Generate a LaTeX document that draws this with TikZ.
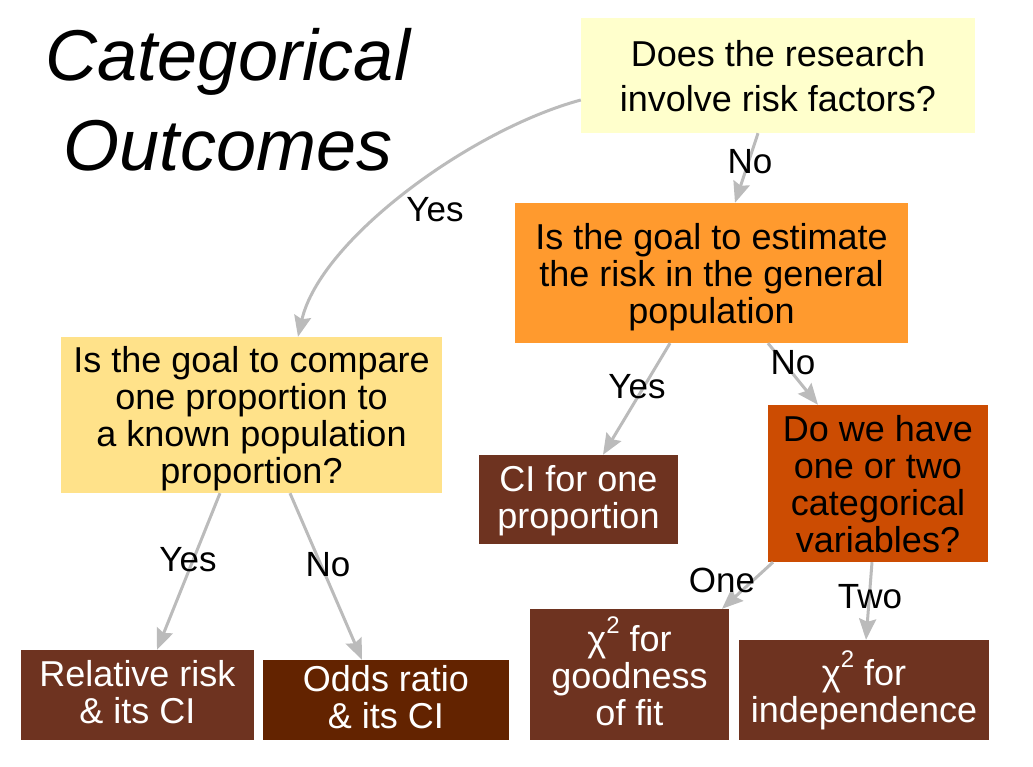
\documentclass[tikz,border=0pt]{standalone}
\usepackage{fontspec}
\setmainfont{Liberation Sans}
\usetikzlibrary{arrows.meta}
\definecolor{pale}{HTML}{FFFFCC}
\definecolor{orng}{HTML}{FF9A2E}
\definecolor{lorng}{HTML}{FFE28A}
\definecolor{dorng}{HTML}{CC4C02}
\definecolor{brwn}{HTML}{6E3320}
\definecolor{dbrwn}{HTML}{632300}
\definecolor{arr}{HTML}{BBBBBB}
\newcommand{\chisq}{χ\raisebox{0.5em}{\fontsize{24}{24}\selectfont 2}}
\tikzset{
  box/.style={rectangle, inner sep=0pt, align=center, font=\fontsize{36}{37}\selectfont, text depth=-4pt},
  darkbox/.style={box, text=white, text depth=6pt},
  lbl/.style={inner sep=0pt, font=\fontsize{35}{36}\selectfont},
  conn/.style={draw=arr, line width=3pt, -{Stealth[length=21pt,width=17pt,inset=3pt]}}
}
\begin{document}
\begin{tikzpicture}[x=1pt,y=-1pt]
\useasboundingbox (0,0) rectangle (1033,767);
\node[inner sep=0pt, align=center, font=\fontsize{72}{90}\selectfont\itshape] (title) at (228,100) {Categorical\\Outcomes};
\node[box, fill=pale, minimum width=394pt, minimum height=115pt, font=\fontsize{36}{45}\selectfont] (b1) at (778,75.5) {Does the research\\involve risk factors?};
\node[box, fill=orng, minimum width=393pt, minimum height=140pt] (b2) at (711.5,273) {Is the goal to estimate\\the risk in the general\\population};
\node[box, fill=lorng, minimum width=381pt, minimum height=156pt] (b3) at (251.5,415) {Is the goal to compare\\one proportion to\\a known population\\proportion?};
\node[darkbox, fill=brwn, minimum width=199pt, minimum height=89pt] (b4) at (578.5,499.5) {CI for one\\proportion};
\node[box, fill=dorng, minimum width=220pt, minimum height=157pt] (b5) at (878,483.5) {Do we have\\one or two\\categorical\\variables?};
\node[darkbox, fill=brwn, minimum width=233pt, minimum height=90pt] (b6) at (137.5,695) {Relative risk\\\& its CI};
\node[darkbox, fill=dbrwn, minimum width=246pt, minimum height=80pt] (b7) at (386,700) {Odds ratio\\\& its CI};
\node[darkbox, fill=brwn, minimum width=199pt, minimum height=131pt] (b8) at (629.5,674.5) {\chisq{} for\\goodness\\of fit};
\node[darkbox, fill=brwn, minimum width=250pt, minimum height=100pt] (b9) at (864,690) {\chisq{} for\\independence};

\draw[conn] ([yshift=-24.5pt]b1.west) .. controls (470,130) and (320,240) .. ([xshift=46.5pt]b3.north);
\draw[conn] ([xshift=-20pt]b1.south) -- ([xshift=23.5pt]b2.north);
\draw[conn] ([xshift=-41.5pt]b2.south) -- ([xshift=24.5pt]b4.north);
\draw[conn] ([xshift=56.5pt]b2.south) -- ([xshift=-60pt]b5.north);
\draw[conn] ([xshift=-31.5pt]b3.south) -- ([xshift=19.5pt]b6.north);
\draw[conn] ([xshift=38.5pt]b3.south) -- ([xshift=-24pt]b7.north);
\draw[conn] ([xshift=-105pt]b5.south) -- ([xshift=92.5pt]b8.north);
\draw[conn] ([xshift=-6pt]b5.south) -- ([xshift=2pt]b9.north);

\node[lbl] (l1) at (435,210) {Yes};
\node[lbl] (l2) at (750,162) {No};
\node[lbl] (l3) at (637,387) {Yes};
\node[lbl] (l4) at (793,363) {No};
\node[lbl] (l5) at (188,560) {Yes};
\node[lbl] (l6) at (328,565) {No};
\node[lbl] (l7) at (722,580) {One};
\node[lbl] (l8) at (870,597) {Two};
\end{tikzpicture}
\end{document}
